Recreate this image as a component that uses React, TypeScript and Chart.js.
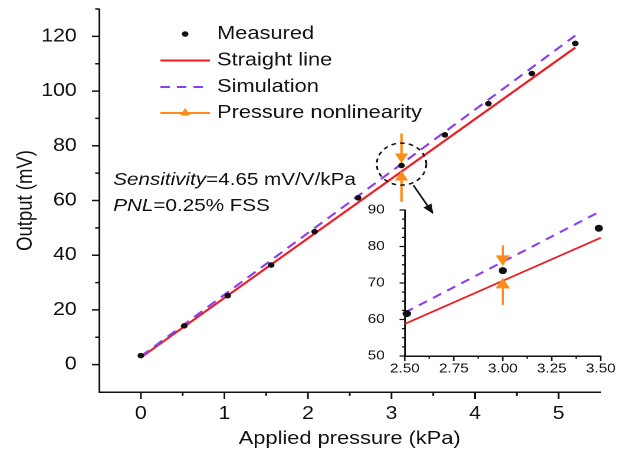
import React, { useEffect, useRef } from 'react';
import { Chart, registerables } from 'chart.js';

Chart.register(...registerables);

const FONT = '"Liberation Sans", Arial, Helvetica, sans-serif';
// The reference figure is stretched horizontally; we draw on a narrower logical canvas and stretch it with CSS.
const STRETCH = 631 / 535;
const MAIN_W = 535;
const MAIN_H = 457;
const INSET_W = 222;
const INSET_H = 195;
const INSET_LEFT = 360;
const INSET_TOP = 195;

const RED = '#ee1c24';
const PURPLE = '#8a3ff0';
const ORANGE = '#ff8c1a';
const INK = '#111111';

// ---------- main plot data ----------
const measuredX = [0, 0.52, 1.04, 1.56, 2.08, 2.6, 3.12, 3.64, 4.16, 4.68, 5.2];
const measuredY = [3.3, 14.2, 25.2, 36.4, 48.6, 61.0, 72.8, 84.0, 95.4, 106.4, 117.4];
const straightX = [0, 5.2];
const straightY = [2.6, 115.9];
const simulationX = [0, 5.2];
const simulationY = [3.0, 120.3];
const nonlinX = 3.12;
const nonlinTopY = [84.5, 76.0]; // line start, down-arrowhead centre
const nonlinBottomY = [59.5, 68.5]; // line start, up-arrowhead centre
const zoomCircle = { x: 3.12, y: 73.3 };

const xMajor = [0, 1, 2, 3, 4, 5];
const xMinor = [0.5, 1.5, 2.5, 3.5, 4.5];
const yMajor = [0, 20, 40, 60, 80, 100, 120];
const yMinor = [10, 30, 50, 70, 90, 110, 130];

const legendLabels = ['Measured', 'Straight line', 'Simulation', 'Pressure nonlinearity'];
const sensitivityText = ['Sensitivity', '=4.65 mV/V/kPa'];
const pnlText = ['PNL', '=0.25% FSS'];

// ---------- inset data ----------
const insetMeasuredX = [2.51, 3.0, 3.49];
const insetMeasuredY = [61.6, 73.4, 85.0];
const insetStraightX = [2.5, 3.5];
const insetStraightY = [58.8, 82.4];
const insetSimX = [2.5, 3.5];
const insetSimY = [61.9, 89.7];
const insetNonlinX = 3.0;
const insetNonlinTopY = [80.3, 76.6];
const insetNonlinBottomY = [64.0, 69.5];
const insetXMajor = [2.5, 2.75, 3.0, 3.25, 3.5];
const insetXMinor = [2.625, 2.875, 3.125, 3.375];
const insetYMajor = [50, 60, 70, 80, 90];
const insetYMinor = [52.5, 55, 57.5, 62.5, 65, 67.5, 72.5, 75, 77.5, 82.5, 85, 87.5];

const pts = (xs: number[], ys: number[]) => xs.map((x, i) => ({ x, y: ys[i] }));

type TickSpec = {
  xMajor: number[]; xMinor: number[]; yMajor: number[]; yMinor: number[];
  xLen: number; yLen: number; width: number;
};

function tickMarks(spec: TickSpec) {
  return {
    id: 'tickMarks',
    afterDraw(chart: any) {
      const { ctx, chartArea: a } = chart;
      const xs = chart.scales.x;
      const ys = chart.scales.y;
      ctx.save();
      ctx.strokeStyle = INK;
      ctx.lineWidth = spec.width;
      ctx.beginPath();
      const xt = (v: number, len: number) => {
        const p = xs.getPixelForValue(v);
        ctx.moveTo(p, a.bottom);
        ctx.lineTo(p, a.bottom + len);
      };
      const yt = (v: number, len: number) => {
        const p = ys.getPixelForValue(v);
        ctx.moveTo(a.left, p);
        ctx.lineTo(a.left - len, p);
      };
      spec.xMajor.forEach((v) => xt(v, spec.xLen));
      spec.xMinor.forEach((v) => xt(v, spec.xLen * 0.55));
      spec.yMajor.forEach((v) => yt(v, spec.yLen));
      spec.yMinor.forEach((v) => yt(v, spec.yLen * 0.55));
      ctx.stroke();
      ctx.restore();
    },
  };
}

function drawMixed(ctx: CanvasRenderingContext2D, x: number, y: number, parts: string[], size: number) {
  ctx.font = `italic ${size}px ${FONT}`;
  ctx.fillText(parts[0], x, y);
  const w = ctx.measureText(parts[0]).width;
  ctx.font = `${size}px ${FONT}`;
  ctx.fillText(parts[1], x + w, y);
}

const mainDecor = {
  id: 'mainDecor',
  afterDraw(chart: any) {
    const { ctx } = chart;
    const xs = chart.scales.x;
    const ys = chart.scales.y;
    ctx.save();

    // dashed zoom circle
    const cx = xs.getPixelForValue(zoomCircle.x);
    const cy = ys.getPixelForValue(zoomCircle.y);
    ctx.strokeStyle = INK;
    ctx.lineWidth = 1.5;
    ctx.setLineDash([4, 3.5]);
    ctx.beginPath();
    ctx.arc(cx, cy, 21, 0, Math.PI * 2);
    ctx.stroke();
    ctx.setLineDash([]);

    // arrow towards the inset
    const x0 = cx + 10, y0 = cy + 21, x1 = cx + 27, y1 = cy + 50;
    const ang = Math.atan2(y1 - y0, x1 - x0);
    ctx.beginPath();
    ctx.moveTo(x0, y0);
    ctx.lineTo(x1 - Math.cos(ang) * 6, y1 - Math.sin(ang) * 6);
    ctx.stroke();
    ctx.fillStyle = INK;
    ctx.beginPath();
    ctx.moveTo(x1, y1);
    ctx.lineTo(x1 - Math.cos(ang) * 10 + Math.sin(ang) * 4, y1 - Math.sin(ang) * 10 - Math.cos(ang) * 4);
    ctx.lineTo(x1 - Math.cos(ang) * 10 - Math.sin(ang) * 4, y1 - Math.sin(ang) * 10 + Math.cos(ang) * 4);
    ctx.closePath();
    ctx.fill();

    // legend
    const lx0 = 136, lx1 = 178, lmid = 157, tx = 184;
    const rows = [34, 60.5, 87, 113];
    ctx.textBaseline = 'middle';
    ctx.textAlign = 'left';
    ctx.fillStyle = INK;
    ctx.beginPath();
    ctx.arc(lmid, rows[0], 2.8, 0, Math.PI * 2);
    ctx.fill();
    ctx.strokeStyle = RED;
    ctx.lineWidth = 2;
    ctx.beginPath();
    ctx.moveTo(lx0, rows[1]);
    ctx.lineTo(lx1, rows[1]);
    ctx.stroke();
    ctx.strokeStyle = PURPLE;
    ctx.setLineDash([8, 6]);
    ctx.beginPath();
    ctx.moveTo(lx0, rows[2]);
    ctx.lineTo(lx1, rows[2]);
    ctx.stroke();
    ctx.setLineDash([]);
    ctx.strokeStyle = ORANGE;
    ctx.fillStyle = ORANGE;
    ctx.beginPath();
    ctx.moveTo(lx0, rows[3]);
    ctx.lineTo(lx1, rows[3]);
    ctx.stroke();
    const r = 5;
    ctx.beginPath();
    ctx.moveTo(lmid, rows[3] - r);
    ctx.lineTo(lmid + r * 0.866, rows[3] + r / 2);
    ctx.lineTo(lmid - r * 0.866, rows[3] + r / 2);
    ctx.closePath();
    ctx.fill();

    ctx.fillStyle = INK;
    ctx.font = `18.5px ${FONT}`;
    legendLabels.forEach((t, i) => ctx.fillText(t, tx, rows[i]));

    // annotation
    drawMixed(ctx, 96, 180, sensitivityText, 17.5);
    drawMixed(ctx, 96, 206, pnlText, 17.5);

    ctx.restore();
  },
};

const fixX = (h: number) => (s: any) => {
  s.height = h;
  s.paddingLeft = 0;
  s.paddingRight = 0;
  s.paddingTop = 0;
  s.paddingBottom = 0;
};
const fixY = (w: number) => (s: any) => {
  s.width = w;
  s.paddingLeft = 0;
  s.paddingRight = 0;
  s.paddingTop = 0;
  s.paddingBottom = 0;
};

function mainConfig(): any {
  return {
    type: 'scatter',
    data: {
      datasets: [
        { label: legendLabels[0], data: pts(measuredX, measuredY), showLine: false, pointRadius: 2.8, pointBackgroundColor: INK, pointBorderColor: INK, pointBorderWidth: 0 },
        { label: 'down', data: [{ x: nonlinX, y: nonlinTopY[1] }], showLine: false, pointStyle: 'triangle', pointRotation: 180, pointRadius: 5.5, pointBackgroundColor: ORANGE, pointBorderColor: ORANGE, pointBorderWidth: 1 },
        { label: 'up', data: [{ x: nonlinX, y: nonlinBottomY[1] }], showLine: false, pointStyle: 'triangle', pointRotation: 0, pointRadius: 5.5, pointBackgroundColor: ORANGE, pointBorderColor: ORANGE, pointBorderWidth: 1 },
        { label: legendLabels[3], data: nonlinTopY.map((y) => ({ x: nonlinX, y })), showLine: true, pointRadius: 0, borderColor: ORANGE, borderWidth: 2 },
        { label: 'nl2', data: nonlinBottomY.map((y) => ({ x: nonlinX, y })), showLine: true, pointRadius: 0, borderColor: ORANGE, borderWidth: 2 },
        { label: legendLabels[2], data: pts(simulationX, simulationY), showLine: true, pointRadius: 0, borderColor: PURPLE, borderWidth: 2, borderDash: [9, 6] },
        { label: legendLabels[1], data: pts(straightX, straightY), showLine: true, pointRadius: 0, borderColor: RED, borderWidth: 2 },
      ],
    },
    options: {
      animation: false,
      responsive: false,
      devicePixelRatio: 2,
      events: [],
      layout: { padding: { top: 9, right: 26, left: 0, bottom: 0 } },
      plugins: { legend: { display: false }, tooltip: { enabled: false } },
      scales: {
        x: {
          type: 'linear',
          min: -0.5,
          max: 5.5,
          afterFit: fixX(65),
          afterBuildTicks: (s: any) => { s.ticks = xMajor.map((v) => ({ value: v })); },
          grid: { display: false },
          border: { display: true, color: INK, width: 1.5 },
          ticks: { color: INK, font: { family: FONT, size: 18 }, padding: 3, maxRotation: 0, autoSkip: false, callback: (v: any) => String(v) },
          title: { display: true, text: 'Applied pressure (kPa)', color: INK, font: { family: FONT, size: 18.5 }, padding: { top: 0, bottom: 7 } },
        },
        y: {
          type: 'linear',
          min: -10,
          max: 130,
          afterFit: fixY(84),
          afterBuildTicks: (s: any) => { s.ticks = yMajor.map((v) => ({ value: v })); },
          grid: { display: false },
          border: { display: true, color: INK, width: 1.5 },
          ticks: { color: INK, font: { family: FONT, size: 18 }, padding: 11, autoSkip: false, callback: (v: any) => String(v) },
          title: { display: true, text: 'Output (mV)', color: INK, font: { family: FONT, size: 18.5 }, padding: { top: 11, bottom: 0 } },
        },
      },
    },
    plugins: [
      tickMarks({ xMajor, xMinor, yMajor, yMinor, xLen: 7, yLen: 6, width: 1.5 }),
      mainDecor,
    ],
  };
}

function insetConfig(): any {
  return {
    type: 'scatter',
    data: {
      datasets: [
        { label: 'Measured', data: pts(insetMeasuredX, insetMeasuredY), showLine: false, pointRadius: 3.5, pointBackgroundColor: INK, pointBorderColor: INK, pointBorderWidth: 0, clip: false },
        { label: 'down', data: [{ x: insetNonlinX, y: insetNonlinTopY[1] }], showLine: false, pointStyle: 'triangle', pointRotation: 180, pointRadius: 6, pointBackgroundColor: ORANGE, pointBorderColor: ORANGE, pointBorderWidth: 1, clip: false },
        { label: 'up', data: [{ x: insetNonlinX, y: insetNonlinBottomY[1] }], showLine: false, pointStyle: 'triangle', pointRotation: 0, pointRadius: 6, pointBackgroundColor: ORANGE, pointBorderColor: ORANGE, pointBorderWidth: 1, clip: false },
        { label: 'nl1', data: insetNonlinTopY.map((y) => ({ x: insetNonlinX, y })), showLine: true, pointRadius: 0, borderColor: ORANGE, borderWidth: 2, clip: false },
        { label: 'nl2', data: insetNonlinBottomY.map((y) => ({ x: insetNonlinX, y })), showLine: true, pointRadius: 0, borderColor: ORANGE, borderWidth: 2, clip: false },
        { label: 'Simulation', data: pts(insetSimX, insetSimY), showLine: true, pointRadius: 0, borderColor: PURPLE, borderWidth: 2, borderDash: [8, 6], clip: false },
        { label: 'Straight line', data: pts(insetStraightX, insetStraightY), showLine: true, pointRadius: 0, borderColor: RED, borderWidth: 1.8, clip: false },
      ],
    },
    options: {
      animation: false,
      responsive: false,
      devicePixelRatio: 2,
      events: [],
      layout: { padding: { top: 15, right: 18, left: 0, bottom: 0 } },
      plugins: { legend: { display: false }, tooltip: { enabled: false } },
      scales: {
        x: {
          type: 'linear',
          min: 2.5,
          max: 3.5,
          afterFit: fixX(34),
          afterBuildTicks: (s: any) => { s.ticks = insetXMajor.map((v) => ({ value: v })); },
          grid: { display: false },
          border: { display: true, color: INK, width: 1.5 },
          ticks: { color: INK, font: { family: FONT, size: 13 }, padding: -3, maxRotation: 0, autoSkip: false, callback: (v: any) => Number(v).toFixed(2) },
        },
        y: {
          type: 'linear',
          min: 50,
          max: 90,
          afterFit: fixY(38),
          afterBuildTicks: (s: any) => { s.ticks = insetYMajor.map((v) => ({ value: v })); },
          grid: { display: false },
          border: { display: true, color: INK, width: 1.5 },
          ticks: { color: INK, font: { family: FONT, size: 13 }, padding: 9, autoSkip: false, callback: (v: any) => String(v) },
        },
      },
    },
    plugins: [
      tickMarks({ xMajor: insetXMajor, xMinor: insetXMinor, yMajor: insetYMajor, yMinor: insetYMinor, xLen: 5, yLen: 4.5, width: 1.3 }),
    ],
  };
}

export default function App() {
  const mainRef = useRef<HTMLCanvasElement>(null);
  const insetRef = useRef<HTMLCanvasElement>(null);

  useEffect(() => {
    const main = new Chart(mainRef.current as HTMLCanvasElement, mainConfig());
    const inset = new Chart(insetRef.current as HTMLCanvasElement, insetConfig());
    return () => {
      main.destroy();
      inset.destroy();
    };
  }, []);

  return (
    <div style={{ position: 'absolute', left: 0, top: 0, width: 631, height: 457, background: '#ffffff', overflow: 'hidden' }}>
      <canvas
        ref={mainRef}
        width={MAIN_W}
        height={MAIN_H}
        style={{ position: 'absolute', left: 0, top: 0, width: `${MAIN_W * STRETCH}px`, height: `${MAIN_H}px` }}
      />
      <canvas
        ref={insetRef}
        width={INSET_W}
        height={INSET_H}
        style={{ position: 'absolute', left: INSET_LEFT, top: INSET_TOP, width: `${INSET_W * STRETCH}px`, height: `${INSET_H}px` }}
      />
    </div>
  );
}
